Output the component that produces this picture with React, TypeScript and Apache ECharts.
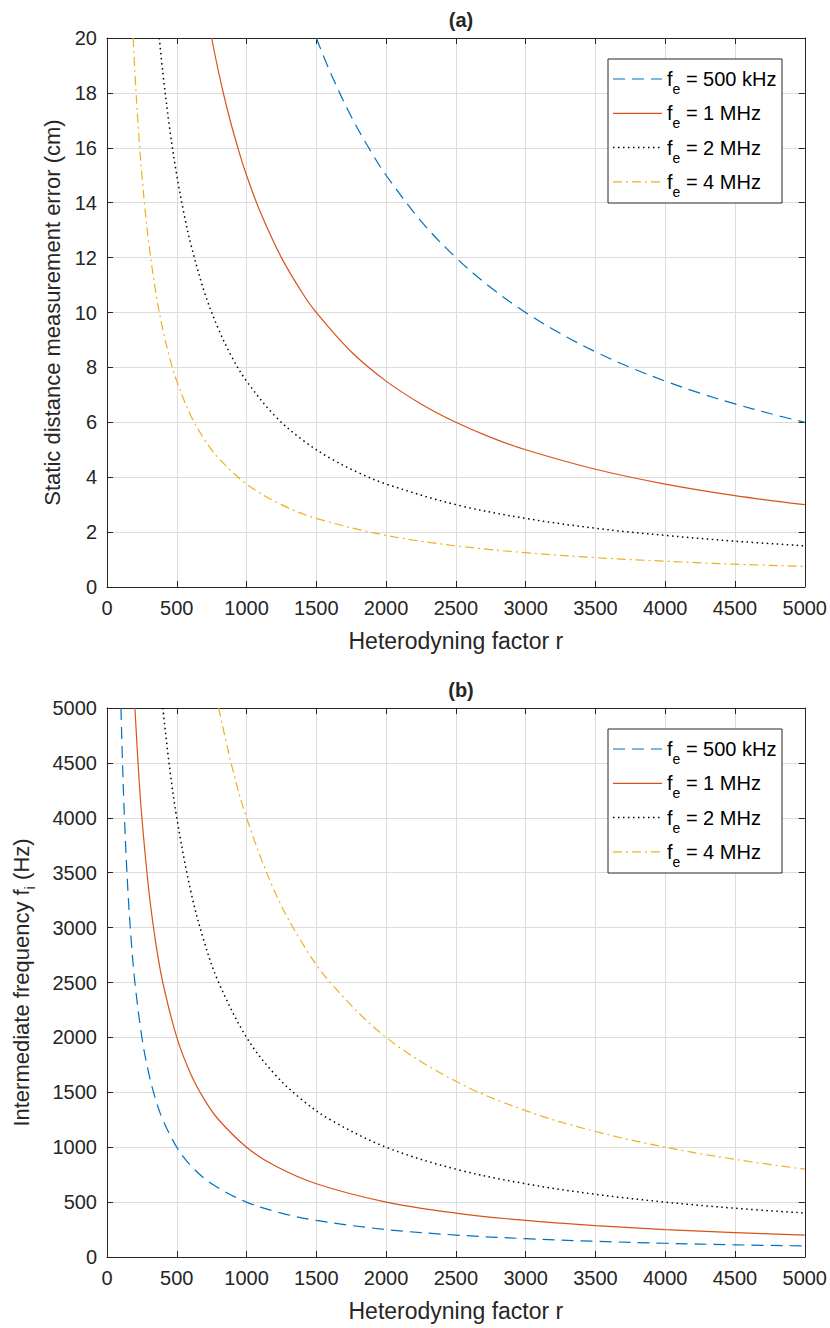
import React, { useEffect, useRef } from "react";
import * as echarts from "echarts";

// ---------- data ----------
const legendLabels = ["500 kHz", "1 MHz", "2 MHz", "4 MHz"];
const xTickMax = 5000;
const xTickStep = 500;
const yAMax = 20;
const yAStep = 2;
const yBMax = 5000;
const yBStep = 500;

// (a) Static distance measurement error (cm) vs heterodyning factor r
const errFe500: number[][] = [
  [1500, 20], [1600, 18.75], [1750, 17.14], [1900, 15.79], [2000, 15], [2250, 13.33],
  [2500, 12], [2750, 10.91], [3000, 10], [3250, 9.23], [3500, 8.57], [3750, 8],
  [4000, 7.5], [4250, 7.06], [4500, 6.67], [4750, 6.32], [5000, 6],
];
const errFe1M: number[][] = [
  [750, 20], [800, 18.75], [875, 17.14], [950, 15.79], [1000, 15], [1100, 13.64],
  [1250, 12], [1400, 10.71], [1500, 10], [1750, 8.57], [2000, 7.5], [2250, 6.67],
  [2500, 6], [2750, 5.45], [3000, 5], [3500, 4.29], [4000, 3.75], [4500, 3.33], [5000, 3],
];
const errFe2M: number[][] = [
  [375, 20], [400, 18.75], [450, 16.67], [500, 15], [550, 13.64], [600, 12.5],
  [700, 10.71], [800, 9.38], [900, 8.33], [1000, 7.5], [1200, 6.25], [1400, 5.36],
  [1600, 4.69], [1800, 4.17], [2000, 3.75], [2500, 3], [3000, 2.5], [3500, 2.14],
  [4000, 1.88], [4500, 1.67], [5000, 1.5],
];
const errFe4M: number[][] = [
  [188, 20], [200, 18.75], [225, 16.67], [250, 15], [275, 13.64], [300, 12.5],
  [350, 10.71], [400, 9.38], [450, 8.33], [500, 7.5], [600, 6.25], [700, 5.36],
  [800, 4.69], [1000, 3.75], [1250, 3], [1500, 2.5], [2000, 1.88], [2500, 1.5],
  [3000, 1.25], [3500, 1.07], [4000, 0.94], [4500, 0.83], [5000, 0.75],
];

// (b) Intermediate frequency f_i (Hz) vs heterodyning factor r
const fiFe500: number[][] = [
  [100, 5000], [110, 4545], [125, 4000], [150, 3333], [175, 2857], [200, 2500],
  [250, 2000], [300, 1667], [350, 1429], [400, 1250], [500, 1000], [600, 833],
  [750, 667], [1000, 500], [1250, 400], [1500, 333], [2000, 250], [2500, 200],
  [3000, 167], [3500, 143], [4000, 125], [4500, 111], [5000, 100],
];
const fiFe1M: number[][] = [
  [200, 5000], [225, 4444], [250, 4000], [300, 3333], [350, 2857], [400, 2500],
  [500, 2000], [600, 1667], [700, 1429], [800, 1250], [1000, 1000], [1200, 833],
  [1500, 667], [2000, 500], [2500, 400], [3000, 333], [3500, 286], [4000, 250],
  [4500, 222], [5000, 200],
];
const fiFe2M: number[][] = [
  [400, 5000], [450, 4444], [500, 4000], [600, 3333], [700, 2857], [800, 2500],
  [1000, 2000], [1200, 1667], [1400, 1429], [1600, 1250], [2000, 1000], [2500, 800],
  [3000, 667], [3500, 571], [4000, 500], [4500, 444], [5000, 400],
];
const fiFe4M: number[][] = [
  [800, 5000], [900, 4444], [1000, 4000], [1200, 3333], [1400, 2857], [1600, 2500],
  [2000, 2000], [2500, 1600], [3000, 1333], [3500, 1143], [4000, 1000], [4500, 889],
  [5000, 800],
];

// ---------- styles ----------
const FONT = "'Liberation Sans', Arial, Helvetica, sans-serif";
const TXT = "#262626";
const GRIDC = "#dcdcdc";
const colors = ["#0072BD", "#D95319", "#000000", "#EDB120"];
const dashes: (number[] | null)[] = [[12, 7], null, [1.5, 3.5], [9, 4, 2, 4]];
const widths = [1.2, 1.2, 1.5, 1.2];

const GL = 107;
const GW = 698;
const GH = 549;
const TOPS = [38, 708];

const plainNum = (v: number) => String(v);

function xAxes(gridIndex: number) {
  const base = {
    gridIndex,
    type: "value" as const,
    min: 0,
    max: xTickMax,
    interval: xTickStep,
  };
  return [
    {
      ...base,
      position: "bottom",
      name: "Heterodyning factor r",
      nameLocation: "middle",
      nameGap: 42,
      nameTextStyle: { fontSize: 23, color: TXT, fontFamily: FONT },
      axisLine: { show: true, onZero: false, lineStyle: { color: TXT, width: 1 } },
      axisTick: { show: true, inside: true, length: 6, lineStyle: { color: TXT } },
      axisLabel: { fontSize: 20, color: TXT, margin: 11, fontFamily: FONT, formatter: plainNum },
      splitLine: { show: true, lineStyle: { color: GRIDC, width: 1 } },
    },
    {
      ...base,
      position: "top",
      axisLine: { show: true, onZero: false, lineStyle: { color: TXT, width: 1 } },
      axisTick: { show: true, inside: true, length: 6, lineStyle: { color: TXT } },
      axisLabel: { show: false },
      splitLine: { show: false },
    },
  ];
}

function yAxes(gridIndex: number, max: number, step: number, name: string, gap: number, rich: any) {
  const base = { gridIndex, type: "value" as const, min: 0, max, interval: step };
  return [
    {
      ...base,
      position: "left",
      name,
      nameLocation: "middle",
      nameGap: gap,
      nameRotate: 90,
      nameTextStyle: { fontSize: 22, color: TXT, fontFamily: FONT, rich },
      axisLine: { show: true, onZero: false, lineStyle: { color: TXT, width: 1 } },
      axisTick: { show: true, inside: true, length: 6, lineStyle: { color: TXT } },
      axisLabel: { fontSize: 20, color: TXT, margin: 10, fontFamily: FONT, formatter: plainNum },
      splitLine: { show: true, lineStyle: { color: GRIDC, width: 1 } },
    },
    {
      ...base,
      position: "right",
      axisLine: { show: true, onZero: false, lineStyle: { color: TXT, width: 1 } },
      axisTick: { show: true, inside: true, length: 6, lineStyle: { color: TXT } },
      axisLabel: { show: false },
      splitLine: { show: false },
    },
  ];
}

function makeSeries(datas: number[][][], axisIdx: number) {
  return datas.map((d, i) => ({
    type: "line",
    name: legendLabels[i] + axisIdx,
    xAxisIndex: axisIdx,
    yAxisIndex: axisIdx,
    data: d,
    smooth: 0.35,
    showSymbol: false,
    symbol: "none",
    clip: true,
    lineStyle: {
      color: colors[i],
      width: widths[i],
      type: dashes[i] ? dashes[i] : "solid",
    },
    z: 3,
  }));
}

const legendRich = {
  m: { fontSize: 20, fontFamily: FONT, color: TXT, lineHeight: 34 },
  s: { fontSize: 14, fontFamily: FONT, color: TXT, lineHeight: 12, verticalAlign: "bottom" },
};

function legendElements(top: number) {
  const boxX = 608;
  const boxY = top + 21;
  const boxW = 174;
  const rowH = 34.3;
  const els: any[] = [
    {
      type: "rect",
      shape: { x: boxX, y: boxY, width: boxW, height: 144 },
      style: { fill: "#ffffff", stroke: TXT, lineWidth: 1 },
      z: 10,
    },
  ];
  legendLabels.forEach((lab, i) => {
    const cy = boxY + 20 + i * rowH;
    els.push({
      type: "line",
      shape: { x1: boxX + 5, y1: cy, x2: boxX + 54, y2: cy },
      style: {
        stroke: colors[i],
        lineWidth: widths[i],
        lineDash: dashes[i] ? dashes[i] : null,
      },
      z: 11,
    });
    els.push({
      type: "text",
      x: boxX + 59,
      y: cy,
      style: {
        text: "{m|f}{s|e}{m| = " + lab + "}",
        rich: legendRich,
        verticalAlign: "middle",
        align: "left",
      },
      z: 11,
    });
  });
  return els;
}

const yNameRich = {
  m: { fontSize: 22, fontFamily: FONT, color: TXT, lineHeight: 32 },
  s: { fontSize: 15, fontFamily: FONT, color: TXT, lineHeight: 12, verticalAlign: "bottom" },
};

export default function App() {
  const ref = useRef<HTMLDivElement>(null);
  useEffect(() => {
    if (!ref.current) return;
    const chart = echarts.init(ref.current, null, { renderer: "svg" });
    const option: any = {
      animation: false,
      backgroundColor: "#ffffff",
      title: [
        {
          text: "(a)",
          left: GL + GW / 2,
          top: 5,
          textAlign: "center",
          textStyle: { fontSize: 20, fontWeight: "bold", color: TXT, fontFamily: FONT },
        },
        {
          text: "(b)",
          left: GL + GW / 2,
          top: 675,
          textAlign: "center",
          textStyle: { fontSize: 20, fontWeight: "bold", color: TXT, fontFamily: FONT },
        },
      ],
      grid: [
        { left: GL, top: TOPS[0], width: GW, height: GH, containLabel: false },
        { left: GL, top: TOPS[1], width: GW, height: GH, containLabel: false },
      ],
      xAxis: [...xAxes(0), ...xAxes(1)],
      yAxis: [
        ...yAxes(0, yAMax, yAStep, "{m|Static distance measurement error (cm)}", 36, yNameRich),
        ...yAxes(1, yBMax, yBStep, "{m|Intermediate frequency f}{s|i}{m| (Hz)}", 70, yNameRich),
      ],
      series: [
        ...makeSeries([errFe500, errFe1M, errFe2M, errFe4M], 0),
        ...makeSeries([fiFe500, fiFe1M, fiFe2M, fiFe4M], 2),
      ],
      graphic: [...legendElements(TOPS[0]), ...legendElements(TOPS[1])],
    };
    chart.setOption(option);
    return () => chart.dispose();
  }, []);
  return (
    <div
      ref={ref}
      style={{ position: "fixed", left: 0, top: 0, width: 830, height: 1328, background: "#fff" }}
    />
  );
}
